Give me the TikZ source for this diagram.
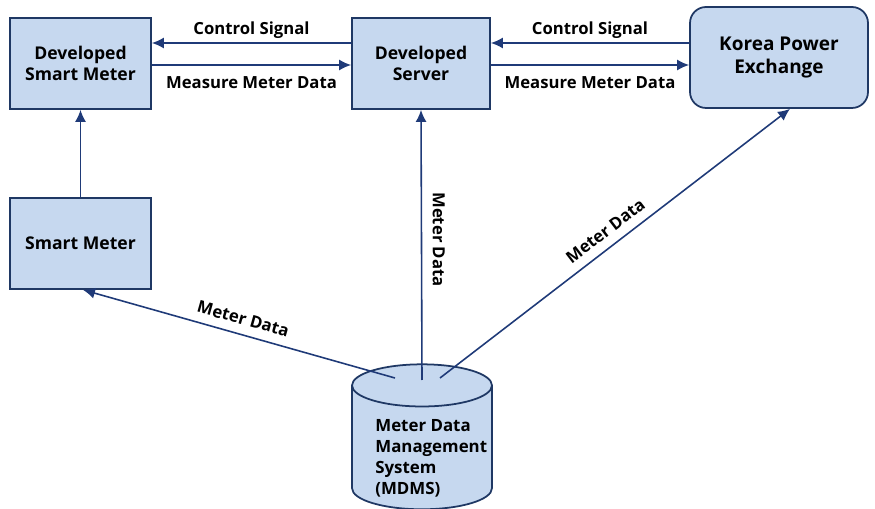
\documentclass[tikz,border=0pt]{standalone}
\usepackage{fontspec}
\setmainfont{Open Sans}
\usetikzlibrary{arrows.meta,positioning,shapes.geometric}
\definecolor{boxfill}{HTML}{C6D8EF}
\definecolor{boxline}{HTML}{1F3864}
\definecolor{arrcol}{HTML}{1F3A78}
\tikzset{
  blk/.style={draw=boxline, fill=boxfill, line width=1pt, minimum width=2.82cm, minimum height=1.82cm, align=center, font=\bfseries\fontsize{10}{12}\selectfont},
  arr/.style={-{Latex[length=2.4mm,width=2.2mm]}, draw=arrcol, line width=0.9pt},
  lbl/.style={font=\bfseries\fontsize{9.5}{11}\selectfont, inner sep=2pt},
}
\begin{document}
\begin{tikzpicture}[x=0.02cm, y=-0.02cm]
  \useasboundingbox (0,0) rectangle (875,509);
  \node[blk] (dsm) at (80.5,63.5) {Developed\\Smart Meter};
  \node[blk, minimum width=2.76cm] (srv) at (421,63.5) {Developed\\Server};
  \node[blk, minimum width=3.56cm, minimum height=2.02cm, rounded corners=0.32cm, font=\bfseries\fontsize{10.8}{13.6}\selectfont] (kpx) at (779,57.5) {Korea Power\\Exchange};
  \node[blk] (sm) at (80.5,243.5) {Smart Meter};
  \node[draw=boxline, fill=boxfill, line width=1pt, cylinder, shape border rotate=90, aspect=3.6, minimum width=2.8cm, minimum height=2.9cm] (mdms) at (422,452) {};
  \node[anchor=west, align=left, font=\bfseries\fontsize{9.6}{12}\selectfont, inner sep=0pt] (mdmstext) at (375,458) {Meter Data\\Management\\System\\(MDMS)};
  % links between the top row
  \draw[arr] ([yshift=0.41cm]srv.west) -- node[lbl, above] {Control Signal} ([yshift=0.41cm]dsm.east);
  \draw[arr] ([yshift=-0.03cm]dsm.east) -- node[lbl, below=4pt] {Measure Meter Data} ([yshift=-0.03cm]srv.west);
  \draw[arr] ([yshift=0.29cm]kpx.west) -- node[lbl, above] {Control Signal} ([yshift=0.41cm]srv.east);
  \draw[arr] ([yshift=-0.03cm]srv.east) -- node[lbl, below=4pt] {Measure Meter Data} ([yshift=-0.15cm]kpx.west);
  \draw[arr] (sm) -- (dsm);
  % meter data from the MDMS
  \draw[arr] ([shift={(-27,-74)}]mdms.center) -- node[lbl, sloped, above=3pt] {Meter Data} ([xshift=0.05cm]sm.south);
  \draw[arr] ([shift={(0,-72)}]mdms.center) -- node[lbl, rotate=-90, anchor=south, pos=0.52, inner sep=6pt] {Meter Data} (srv.south);
  \draw[arr] ([shift={(18,-74)}]mdms.center) -- node[lbl, sloped, above=3pt] {Meter Data} ([xshift=0.22cm]kpx.south);
\end{tikzpicture}
\end{document}
